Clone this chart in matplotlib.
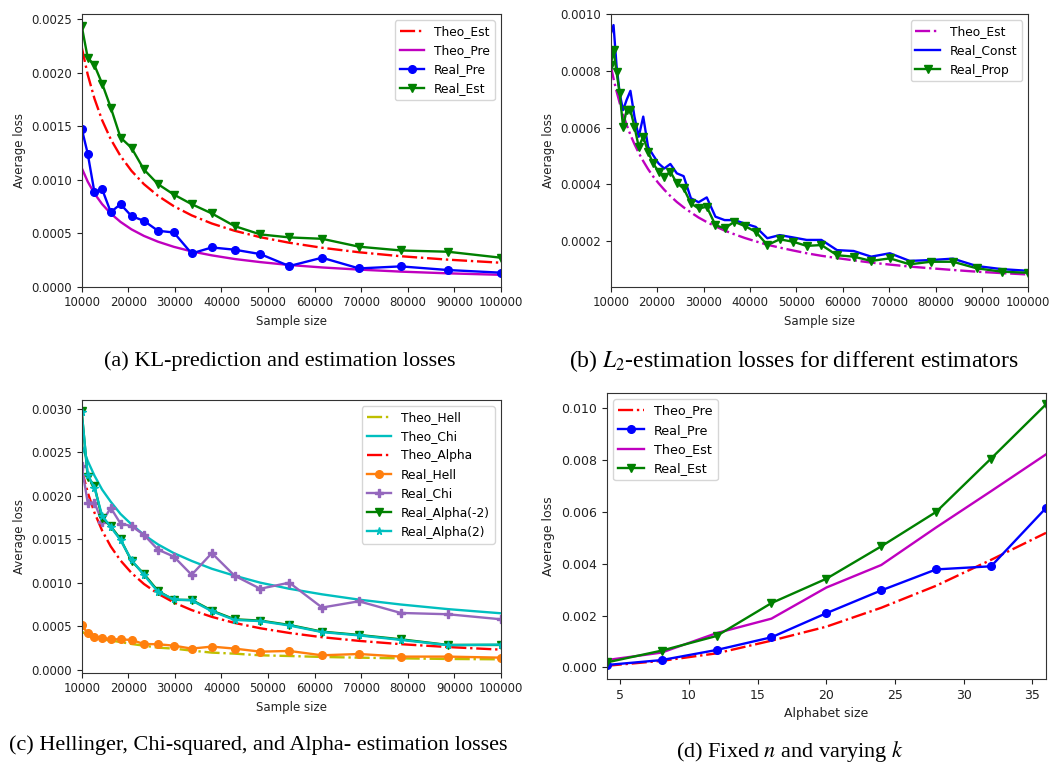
import matplotlib
matplotlib.use("Agg")
import matplotlib.pyplot as plt

# ---- data ----
# (a) and (c): 20 sample sizes
n20 = [10000, 11288, 12743, 14384, 16238, 18330, 20691, 23357, 26367, 29764,
       33598, 37927, 42813, 48329, 54556, 61585, 69519, 78476, 88587, 100000]

a_theo_est = [0.00224, 0.001984, 0.001758, 0.001557, 0.001379, 0.001222, 0.001083, 0.000959,
              0.00085, 0.000753, 0.000667, 0.000591, 0.000523, 0.000463, 0.000411, 0.000364,
              0.000322, 0.000285, 0.000253, 0.000224]
a_theo_pre = [0.00111, 0.000983, 0.000871, 0.000772, 0.000684, 0.000606, 0.000536, 0.000475,
              0.000421, 0.000373, 0.00033, 0.000293, 0.000259, 0.00023, 0.000203, 0.00018,
              0.00016, 0.000141, 0.000125, 0.000111]
a_real_pre = [0.001479, 0.001245, 0.000881, 0.000912, 0.000697, 0.000772, 0.00066, 0.000616,
              0.000523, 0.000507, 0.000311, 0.000367, 0.000346, 0.000305, 0.000193, 0.000271,
              0.000171, 0.00019, 0.000156, 0.000131]
a_real_est = [0.002438, 0.002142, 0.00207, 0.001899, 0.001675, 0.001395, 0.001298, 0.001096,
              0.000959, 0.000862, 0.000772, 0.000685, 0.000567, 0.000489, 0.000461, 0.000448,
              0.000374, 0.000339, 0.000327, 0.000271]

# (b): 40 sample sizes
n40 = [10000, 10608, 11253, 11938, 12664, 13434, 14251, 15118, 16037, 17013,
       18047, 19145, 20309, 21544, 22855, 24245, 25719, 27283, 28943, 30703,
       32570, 34551, 36652, 38881, 41246, 43755, 46416, 49239, 52233, 55410,
       58780, 62355, 66147, 70170, 74438, 78965, 83768, 88862, 94267, 100000]
b_theo_est = [0.00082, 0.000773, 0.000729, 0.000687, 0.000648, 0.00061, 0.000575, 0.000542,
              0.000511, 0.000482, 0.000454, 0.000428, 0.000404, 0.000381, 0.000359, 0.000338,
              0.000319, 0.000301, 0.000283, 0.000267, 0.000252, 0.000237, 0.000224, 0.000211,
              0.000199, 0.000187, 0.000177, 0.000167, 0.000157, 0.000148, 0.00014, 0.000132,
              0.000124, 0.000117, 0.00011, 0.000104, 0.000098, 0.000092, 0.000087, 0.000082]
b_real_const = [0.00093, 0.000962, 0.00082, 0.00072, 0.000662, 0.000698, 0.00073, 0.000639,
                0.000568, 0.000639, 0.000533, 0.000503, 0.000474, 0.000456, 0.000472, 0.000439,
                0.000429, 0.000351, 0.000337, 0.000354, 0.000286, 0.000274, 0.000274, 0.000262,
                0.00025, 0.00021, 0.000221, 0.000213, 0.000204, 0.000204, 0.000168, 0.000165,
                0.000145, 0.000157, 0.00013, 0.000133, 0.000138, 0.000112, 0.000101, 0.000095]
b_real_prop = [0.00082, 0.000874, 0.000797, 0.000721, 0.000603, 0.000662, 0.000662, 0.000603,
               0.000533, 0.000568, 0.000515, 0.000474, 0.000445, 0.000427, 0.000445, 0.000404,
               0.000386, 0.000333, 0.000315, 0.000321, 0.000256, 0.000245, 0.000268, 0.000253,
               0.000233, 0.000186, 0.000206, 0.000198, 0.000183, 0.000186, 0.00015, 0.000145,
               0.00013, 0.000139, 0.000118, 0.000127, 0.000127, 0.000104, 0.000092, 0.000088]

# (c)
c_theo_hell = [0.000437, 0.0004, 0.000372, 0.000349, 0.000334, 0.000318, 0.000295, 0.000276,
               0.000253, 0.000242, 0.000219, 0.000196, 0.000184, 0.000165, 0.000157, 0.000146,
               0.000138, 0.00013, 0.000123, 0.000119]
c_theo_chi = [0.00258, 0.0024, 0.00223, 0.00207, 0.00193, 0.00179, 0.00167, 0.00155, 0.00144,
              0.00134, 0.00125, 0.00116, 0.00108, 0.001, 0.00093, 0.000866, 0.000805, 0.000749,
              0.000696, 0.000648]
c_theo_alpha = [0.0023, 0.002038, 0.001805, 0.001599, 0.001416, 0.001255, 0.001112, 0.000985,
                0.000873, 0.000773, 0.000685, 0.000607, 0.000537, 0.000476, 0.000422, 0.000373,
                0.000331, 0.000293, 0.00026, 0.00023]
c_real_hell = [0.000514, 0.000418, 0.00038, 0.000368, 0.000349, 0.000349, 0.000341, 0.000295,
               0.000292, 0.000276, 0.000242, 0.000265, 0.000242, 0.000207, 0.000215, 0.000165,
               0.00018, 0.00015, 0.00015, 0.000138]
c_real_chi = [0.00234, 0.00192, 0.00192, 0.0017, 0.00186, 0.00168, 0.00165, 0.00155, 0.00138,
              0.0013, 0.00109, 0.00134, 0.00108, 0.00093, 0.001, 0.000714, 0.000786, 0.000652,
              0.000637, 0.000579]
c_real_alpha_m2 = [0.00297, 0.00222, 0.00211, 0.00174, 0.00165, 0.0015, 0.00125, 0.0011,
                   0.000905, 0.000802, 0.000802, 0.000679, 0.000579, 0.000564, 0.000514,
                   0.000437, 0.000399, 0.000349, 0.000284, 0.000284]
c_real_alpha_2 = [0.00296, 0.00224, 0.00209, 0.00177, 0.00164, 0.00149, 0.00126, 0.00109,
                  0.000895, 0.000808, 0.000796, 0.000672, 0.000572, 0.000558, 0.000508,
                  0.000432, 0.000394, 0.000342, 0.000282, 0.000288]

# (d): alphabet sizes
k = [4, 8, 12, 16, 20, 24, 28, 32, 36]
d_theo_pre = [0.00006, 0.00025, 0.00054, 0.00103, 0.00157, 0.0023, 0.00315, 0.00415, 0.00519]
d_real_pre = [0.00009, 0.00028, 0.00067, 0.00116, 0.00209, 0.00297, 0.00378, 0.0039, 0.00615]
d_theo_est = [0.00028, 0.00057, 0.00132, 0.00188, 0.00308, 0.00395, 0.0054, 0.0068, 0.00822]
d_real_est = [0.00019, 0.000645, 0.00121, 0.00248, 0.00342, 0.00467, 0.006, 0.00806, 0.01015]

plt.rcParams['mathtext.fontset'] = 'stix'
plt.rcParams['font.family'] = ['DejaVu Sans']

W, H = 1050, 767
fig = plt.figure(figsize=(W / 100, H / 100), dpi=100)


def px_axes(left, top, right, bottom):
    return fig.add_axes([left / W, 1 - bottom / H, (right - left) / W, (bottom - top) / H])


def style(ax, fs):
    ax.tick_params(labelsize=fs, length=3.5, width=0.8, colors='#222222')
    for s in ax.spines.values():
        s.set_linewidth(0.8)
        s.set_color('#333333')


lw = 1.7
ms = 5.5
fs = 8.5

# (a)
ax = px_axes(81.7, 14, 501, 286.7)
ax.plot(n20, a_theo_est, 'r-.', lw=lw, label='Theo_Est')
ax.plot(n20, a_theo_pre, 'm-', lw=lw, label='Theo_Pre')
ax.plot(n20, a_real_pre, 'b-o', lw=lw, ms=ms, label='Real_Pre')
ax.plot(n20, a_real_est, 'g-v', lw=lw, ms=ms, label='Real_Est')
ax.set_xlim(10000, 100000)
ax.set_ylim(0, 0.00255)
ax.set_yticks([0, 0.0005, 0.001, 0.0015, 0.002, 0.0025])
ax.set_xlabel('Sample size', fontsize=fs, color='#222222')
ax.set_ylabel('Average loss', fontsize=fs, color='#222222')
ax.legend(loc='upper right', fontsize=8.8)
style(ax, fs)

# (b)
ax = px_axes(610.7, 14.3, 1028.3, 286.7)
ax.plot(n40, b_theo_est, 'm-.', lw=lw, label='Theo_Est')
ax.plot(n40, b_real_const, 'b-', lw=lw, label='Real_Const')
ax.plot(n40, b_real_prop, 'g-v', lw=lw, ms=ms, label='Real_Prop')
ax.set_xlim(10000, 100000)
ax.set_ylim(0.000039, 0.001)
ax.set_yticks([0.0002, 0.0004, 0.0006, 0.0008, 0.001])
ax.set_xlabel('Sample size', fontsize=fs, color='#222222')
ax.set_ylabel('Average loss', fontsize=fs, color='#222222')
ax.legend(loc='upper right', fontsize=8.8)
style(ax, fs)

# (c)
ax = px_axes(81.7, 400, 501, 672.7)
ax.plot(n20, c_theo_hell, 'y-.', lw=lw, label='Theo_Hell')
ax.plot(n20, c_theo_chi, 'c-', lw=lw, label='Theo_Chi')
ax.plot(n20, c_theo_alpha, 'r-.', lw=lw, label='Theo_Alpha')
ax.plot(n20, c_real_hell, '-o', color='tab:orange', lw=lw, ms=ms, label='Real_Hell')
ax.plot(n20, c_real_chi, '-P', color='tab:purple', lw=lw, ms=ms, label='Real_Chi')
ax.plot(n20, c_real_alpha_m2, 'g-v', lw=lw, ms=ms, label='Real_Alpha(-2)')
ax.plot(n20, c_real_alpha_2, 'c-*', lw=lw, ms=ms, label='Real_Alpha(2)')
ax.set_xlim(10000, 100000)
ax.set_ylim(-0.000035, 0.0031)
ax.set_yticks([0, 0.0005, 0.001, 0.0015, 0.002, 0.0025, 0.003])
ax.set_xlabel('Sample size', fontsize=fs, color='#222222')
ax.set_ylabel('Average loss', fontsize=fs, color='#222222')
ax.legend(loc='upper right', fontsize=8.8)
style(ax, fs)

# (d)
ax = px_axes(606.7, 392.7, 1046, 679)
ax.plot(k, d_theo_pre, 'r-.', lw=lw, label='Theo_Pre')
ax.plot(k, d_real_pre, 'b-o', lw=lw, ms=ms, label='Real_Pre')
ax.plot(k, d_theo_est, 'm-', lw=lw, label='Theo_Est')
ax.plot(k, d_real_est, 'g-v', lw=lw, ms=ms, label='Real_Est')
ax.set_xlim(4, 36)
ax.set_ylim(-0.00045, 0.0106)
ax.set_yticks([0, 0.002, 0.004, 0.006, 0.008, 0.01])
ax.set_xlabel('Alphabet size', fontsize=9, color='#222222')
ax.set_ylabel('Average loss', fontsize=9, color='#222222')
ax.legend(loc='upper left', fontsize=9.2)
style(ax, 9)

# captions
cap = dict(family='Liberation Serif', ha='center', va='center')
fig.text(280 / W, 1 - 361 / H, '(a) KL-prediction and estimation losses', fontsize=16, **cap)
fig.text(794 / W, 1 - 361 / H, '(b) $L_2$-estimation losses for different estimators',
         fontsize=17, **cap)
fig.text(258 / W, 1 - 745 / H, '(c) Hellinger, Chi-squared, and Alpha- estimation losses',
         fontsize=16, **cap)
fig.text(790 / W, 1 - 752 / H, '(d) Fixed $n$ and varying $k$', fontsize=16, **cap)

fig.savefig('out.png', dpi=100)
